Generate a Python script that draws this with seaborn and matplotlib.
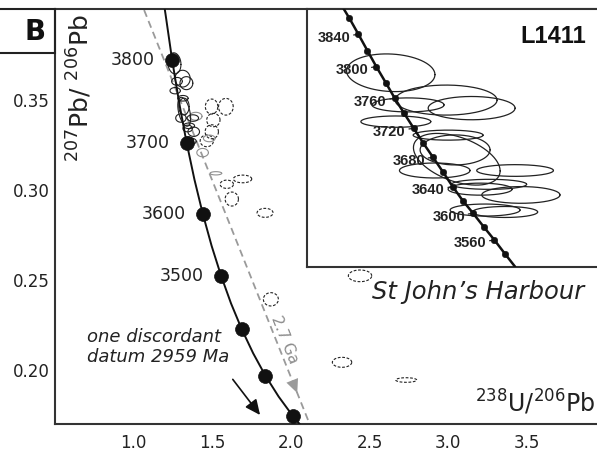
import numpy as np
import pandas as pd
import matplotlib
matplotlib.use("Agg")
import matplotlib.pyplot as plt
import seaborn as sns
from matplotlib.patches import Rectangle

# ---------------- data ----------------
# main concordia curve (238U/206Pb, 207Pb/206Pb)
conc_x = [1.1945, 1.2031, 1.2453, 1.2899, 1.3368, 1.3869, 1.4398, 1.4960, 1.5557,
          1.6195, 1.6875, 1.7603, 1.8384, 1.9224, 2.0130, 2.1109]
conc_y = [0.4026, 0.3976, 0.3721, 0.3484, 0.3264, 0.3058, 0.2868, 0.2690, 0.2525,
          0.2370, 0.2227, 0.2093, 0.1968, 0.1852, 0.1744, 0.1643]
# big concordia dots and their labels
dot_x = [1.245, 1.337, 1.440, 1.556, 1.688, 1.838, 2.013]
dot_y = [0.3721, 0.3264, 0.2868, 0.2525, 0.2227, 0.1968, 0.1744]
dot_labels = ["3800", "3700", "3600", "3500", "", "", ""]

# L1411 analyses (error ellipses): centre, half-widths, correlation
ell_cx = [1.2594, 1.3116, 1.3357, 1.2757, 1.2642, 1.3135, 1.3217, 1.3201,
          1.3009, 1.3767, 1.3522, 1.3437, 1.3822, 1.3484, 1.3673]
ell_cy = [0.3704, 0.3619, 0.3594, 0.3604, 0.3552, 0.3510, 0.3435, 0.3464,
          0.3400, 0.3400, 0.3357, 0.3342, 0.3324, 0.3277, 0.3271]
ell_sx = [0.0417, 0.0481, 0.0410, 0.0340, 0.0330, 0.0330, 0.0409, 0.0330,
          0.0333, 0.0362, 0.0354, 0.0302, 0.0369, 0.0330, 0.0307]
ell_sy = [0.00586, 0.00467, 0.00362, 0.00218, 0.00176, 0.00156, 0.00804, 0.00467,
          0.00233, 0.00182, 0.00156, 0.00187, 0.00260, 0.00187, 0.00171]
ell_rho = [-0.1, 0, 0, 0, 0, 0, -0.45, 0, 0, 0, 0, 0, 0, 0, 0]

# grey (other sample) ellipses
grey_cx = [1.395, 1.4387, 1.5232, 1.4812]
grey_cy = [0.341, 0.3208, 0.3093, 0.3287]
grey_sx = [0.040, 0.0369, 0.0372, 0.0372]
grey_sy = [0.0022, 0.00233, 0.00092, 0.00186]

# dashed (discordant) ellipses
dash_cx = [1.4959, 1.5868, 1.5073, 1.4971, 1.4654, 1.5925, 1.6929, 1.6243,
           1.836, 2.4399, 1.8729, 2.3255, 2.7336]
dash_cy = [0.34639, 0.34628, 0.33889, 0.33239, 0.32733, 0.30322, 0.30617, 0.2950,
           0.28733, 0.25233, 0.23928, 0.20428, 0.19444]
dash_sx = [0.0397, 0.0467, 0.0423, 0.0423, 0.0423, 0.0423, 0.0585, 0.0423,
           0.0509, 0.0744, 0.0477, 0.0617, 0.0668]
dash_sy = [0.00417, 0.00464, 0.00372, 0.00389, 0.00325, 0.0023, 0.00214, 0.00389,
           0.0025, 0.00325, 0.0037, 0.00278, 0.00128]

# 2.7 Ga discordia trend (grey dashed)
disc_x = [1.0668, 2.1194]
disc_y = [0.400, 0.170]
disc_arrow_from = (1.9962, 0.1970)
disc_arrow_to = (2.0407, 0.1872)
# discordant datum arrow
datum_arrow_from = (1.6306, 0.1948)
datum_arrow_to = (1.8042, 0.1750)

x_ticks = [1.0, 1.5, 2.0, 2.5, 3.0, 3.5]
x_tick_labels = ["1.0", "1.5", "2.0", "2.5", "3.0", "3.5"]
y_ticks = [0.20, 0.25, 0.30, 0.35]
y_tick_labels = ["0.20", "0.25", "0.30", "0.35"]

# inset concordia (dots every 20 Ma, 3860 ... 3540)
inset_dot_x = [1.2204, 1.2289, 1.2374, 1.2458, 1.2547, 1.2632, 1.2720, 1.2811, 1.2902,
               1.2993, 1.3085, 1.3179, 1.3274, 1.3371, 1.3475, 1.3572, 1.3673]
inset_dot_y = [0.38734, 0.38236, 0.37726, 0.37229, 0.36731, 0.36246, 0.35779, 0.35313,
               0.34846, 0.34411, 0.33963, 0.33496, 0.33061, 0.32669, 0.32233, 0.31838,
               0.31403]
inset_labels = ["", "3840", "", "3800", "", "3760", "", "3720", "", "3680", "",
                "3640", "", "3600", "", "3560", ""]
inset_line_x = [1.2147] + inset_dot_x + [1.3767]
inset_line_y = [0.39045] + inset_dot_y + [0.31008]
inset_xticks = [1.20, 1.22, 1.24, 1.26, 1.28, 1.30, 1.32, 1.34, 1.36, 1.38, 1.40, 1.42, 1.44]
inset_yticks = [0.32, 0.33, 0.34, 0.35, 0.36, 0.37, 0.38]

# ---------------- style ----------------
sns.set_style("white")
plt.rcParams["font.family"] = ["DejaVu Sans"]
plt.rcParams["mathtext.fontset"] = "dejavusans"

W, H = 597, 461
fig = plt.figure(figsize=(W / 100, H / 100), dpi=100)
SPINE = "#333333"
GREY = "#9a9a9a"


def draw_ellipse(ax, cx, cy, sx, sy, rho, **kw):
    t = np.linspace(0, 2 * np.pi, 140)
    x = cx + sx * np.cos(t)
    y = cy + sy * (rho * np.cos(t) + np.sqrt(1 - rho ** 2) * np.sin(t))
    ax.plot(x, y, **kw)


# ---------------- main axes ----------------
ax = fig.add_axes([55 / W, 1 - 424 / H, 1 - 55 / W, (424 - 9) / H])
ax.set_xlim(0.5, 3.947)
ax.set_ylim(0.17, 0.4006)
for s in ["left", "bottom", "top"]:
    ax.spines[s].set_color(SPINE)
    ax.spines[s].set_linewidth(1.5)
ax.spines["right"].set_visible(False)

ax.set_xticks(x_ticks)
ax.set_xticklabels(x_tick_labels)
ax.set_yticks(y_ticks)
ax.set_yticklabels(y_tick_labels)
ax.tick_params(axis="x", direction="in", length=4.5, width=1.2, pad=7,
               labelsize=12, colors=SPINE, labelcolor="#222222")
ax.tick_params(axis="y", direction="out", length=3, width=1.2, pad=1,
               labelsize=12, colors=SPINE, labelcolor="#222222")
ax.set_xlabel("")
ax.set_ylabel("")

# ellipses
for cx, cy, sx, sy in zip(dash_cx, dash_cy, dash_sx, dash_sy):
    draw_ellipse(ax, cx, cy, sx, sy, 0.0, color="#222222", lw=0.8,
                 dashes=(2.5, 1.5), zorder=2)
for cx, cy, sx, sy in zip(grey_cx, grey_cy, grey_sx, grey_sy):
    draw_ellipse(ax, cx, cy, sx, sy, 0.0, color="#8f8f8f", lw=0.8, zorder=2)
for cx, cy, sx, sy, r in zip(ell_cx, ell_cy, ell_sx, ell_sy, ell_rho):
    draw_ellipse(ax, cx, cy, sx, sy, r, color="#222222", lw=0.8, zorder=3)

# discordia trend
ax.plot(disc_x, disc_y, color=GREY, lw=1.3, dashes=(4, 2.5), zorder=1)
ax.annotate("", xy=disc_arrow_to, xytext=disc_arrow_from,
            arrowprops=dict(arrowstyle="-|>,head_length=0.7,head_width=0.32",
                            color=GREY, lw=0.01, mutation_scale=14,
                            shrinkA=0, shrinkB=0), zorder=2)
ax.text(1.957, 0.2167, "2.7 Ga", color="#8c8c8c", fontsize=11, rotation=-68.2,
        rotation_mode="anchor", ha="center", va="center")

# concordia
sns.lineplot(x=conc_x, y=conc_y, sort=False, estimator=None, color="#111111",
             lw=1.4, ax=ax, zorder=4)
sns.scatterplot(x=dot_x, y=dot_y, s=100, color="#111111", edgecolor="#111111",
                linewidth=0.5, ax=ax, zorder=5, legend=False)
for x, y, lab in zip(dot_x, dot_y, dot_labels):
    if lab:
        ax.annotate(lab, (x, y), xytext=(-12.5, 0), textcoords="offset points",
                    ha="right", va="center", fontsize=12.5, color="#222222")

# discordant datum note
ax.annotate("", xy=datum_arrow_to, xytext=datum_arrow_from,
            arrowprops=dict(arrowstyle="-|>,head_length=0.65,head_width=0.3",
                            color="#111111", lw=1.2, mutation_scale=14,
                            shrinkA=0, shrinkB=0))
ax.text(0.7044, 0.2129, "one discordant\ndatum 2959 Ma", style="italic",
        fontsize=13, ha="left", va="center", linespacing=1.15, color="#222222")

# axis titles (inside the frame)
ax.text(0.6535, 0.3567, r"$^{207}$Pb/ $^{206}$Pb", rotation=90, ha="center",
        va="center", fontsize=18, color="#222222")
ax.text(3.934, 0.1768, r"$^{238}$U/$^{206}$Pb", ha="right", va="baseline",
        fontsize=17, color="#222222")
ax.text(2.5162, 0.2394, "St John\u2019s Harbour", style="italic", fontsize=17.5,
        ha="left", va="baseline", color="#222222")

# panel letter box
fig.patches.append(Rectangle((-0.05, 1 - 53.3 / H), 55 / W + 0.05, 44.3 / H,
                             transform=fig.transFigure, fill=False, lw=1.5,
                             ec="#222222"))
fig.text(35 / W, 1 - 32 / H, "B", fontsize=20, fontweight="bold",
         ha="center", va="center", color="#111111")

# ---------------- inset ----------------
axi = fig.add_axes([306.6 / W, 1 - 266.7 / H, 1 - 306.6 / W, (266.7 - 9) / H])
axi.set_facecolor("white")
axi.set_xlim(1.18, 1.454)
axi.set_ylim(0.31008, 0.39023)
for s in ["left", "bottom", "top"]:
    axi.spines[s].set_color(SPINE)
    axi.spines[s].set_linewidth(1.5)
axi.spines["right"].set_visible(False)
axi.set_xticks(inset_xticks)
axi.set_yticks(inset_yticks)
axi.tick_params(direction="in", length=3, width=1.0, colors=SPINE,
                labelbottom=False, labelleft=False)

for cx, cy, sx, sy, r in zip(ell_cx, ell_cy, ell_sx, ell_sy, ell_rho):
    draw_ellipse(axi, cx, cy, sx, sy, r, color="#222222", lw=0.9, zorder=2)

sns.lineplot(x=inset_line_x, y=inset_line_y, sort=False, estimator=None,
             color="#111111", lw=1.8, ax=axi, zorder=3)
sns.scatterplot(x=inset_dot_x, y=inset_dot_y, s=22, color="#111111",
                edgecolor="#111111", ax=axi, zorder=4, legend=False)
for x, y, lab in zip(inset_dot_x, inset_dot_y, inset_labels):
    if lab:
        axi.annotate(lab, (x, y), xytext=(-5.8, -2.5), textcoords="offset points",
                     ha="right", va="center", fontsize=10.5, fontweight="bold",
                     family=["Liberation Sans", "DejaVu Sans"], color="#222222",
                     arrowprops=dict(arrowstyle="-", lw=0.9, color="#222222",
                                     shrinkA=0, shrinkB=0))
axi.set_xlabel("")
axi.set_ylabel("")
axi.text(1.4125, 0.3816, "L1411", fontsize=17, fontweight="bold",
         family=["Liberation Sans", "DejaVu Sans"], ha="center", va="center",
         color="#111111")

fig.savefig("out.png", dpi=100)
